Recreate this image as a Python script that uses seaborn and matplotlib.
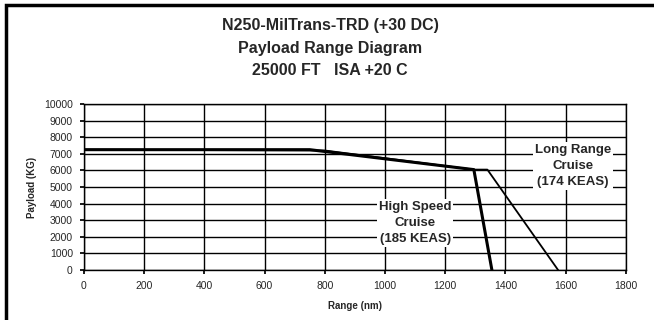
import matplotlib
matplotlib.use("Agg")
import matplotlib.pyplot as plt
import seaborn as sns
import pandas as pd
from matplotlib.patches import Rectangle

hsc_range = [0, 750, 1295, 1355]
hsc_payload = [7250, 7250, 6050, 0]
lrc_range = [0, 800, 1295, 1340, 1575]
lrc_payload = [7250, 7200, 6050, 6050, 0]

titulo = "N250-MilTrans-TRD (+30 DC)\nPayload Range Diagram\n25000 FT   ISA +20 C"
rotulo_lrc = "Long Range\nCruise\n(174 KEAS)"
rotulo_hsc = "High Speed\nCruise\n(185 KEAS)"

sns.set_theme(style="white")
plt.rcParams['font.family'] = ['Liberation Sans', 'DejaVu Sans']

df_hsc = pd.DataFrame({'Range': hsc_range, 'Payload': hsc_payload})
df_lrc = pd.DataFrame({'Range': lrc_range, 'Payload': lrc_payload})

fig = plt.figure(figsize=(6.54, 3.2), dpi=100)
ax = fig.add_axes([0.1284, 0.156, 0.8286, 0.519])

sns.lineplot(data=df_lrc, x='Range', y='Payload', sort=False, color='black', linewidth=1.3, ax=ax)
sns.lineplot(data=df_hsc, x='Range', y='Payload', sort=False, color='black', linewidth=2.2, ax=ax)

ax.set_xlim(0, 1800)
ax.set_ylim(0, 10000)
ax.set_xticks(range(0, 1801, 200))
ax.set_yticks(range(0, 10001, 1000))
ax.grid(True, color='black', linewidth=1.0)
ax.set_axisbelow(True)
for s in ax.spines.values():
    s.set_color('black')
    s.set_linewidth(1.0)
ax.tick_params(axis='both', labelsize=7.5, length=3, color='black', direction='out',
               bottom=True, left=True, pad=5)
ax.set_xlabel("Range (nm)", fontsize=7, fontweight='bold', labelpad=7)
ax.set_ylabel("Payload (KG)", fontsize=7, fontweight='bold', labelpad=5)

caixa = dict(facecolor='white', edgecolor='none', pad=1.5)
ax.text(1624, 6250, rotulo_lrc, ha='center', va='center', fontsize=9.5, fontweight='bold',
        linespacing=1.45, bbox=caixa)
ax.text(1100, 2830, rotulo_hsc, ha='center', va='center', fontsize=9.5, fontweight='bold',
        linespacing=1.45, bbox=caixa)

fig.text(0.505, 0.943, titulo, ha='center', va='top', fontsize=11.5, fontweight='bold',
         linespacing=1.62)

fig.patches.append(Rectangle((0.009, -0.05), 1.1, 1.035, transform=fig.transFigure,
                             fill=False, edgecolor='black', linewidth=2.5))

fig.savefig("out.png", dpi=100)
